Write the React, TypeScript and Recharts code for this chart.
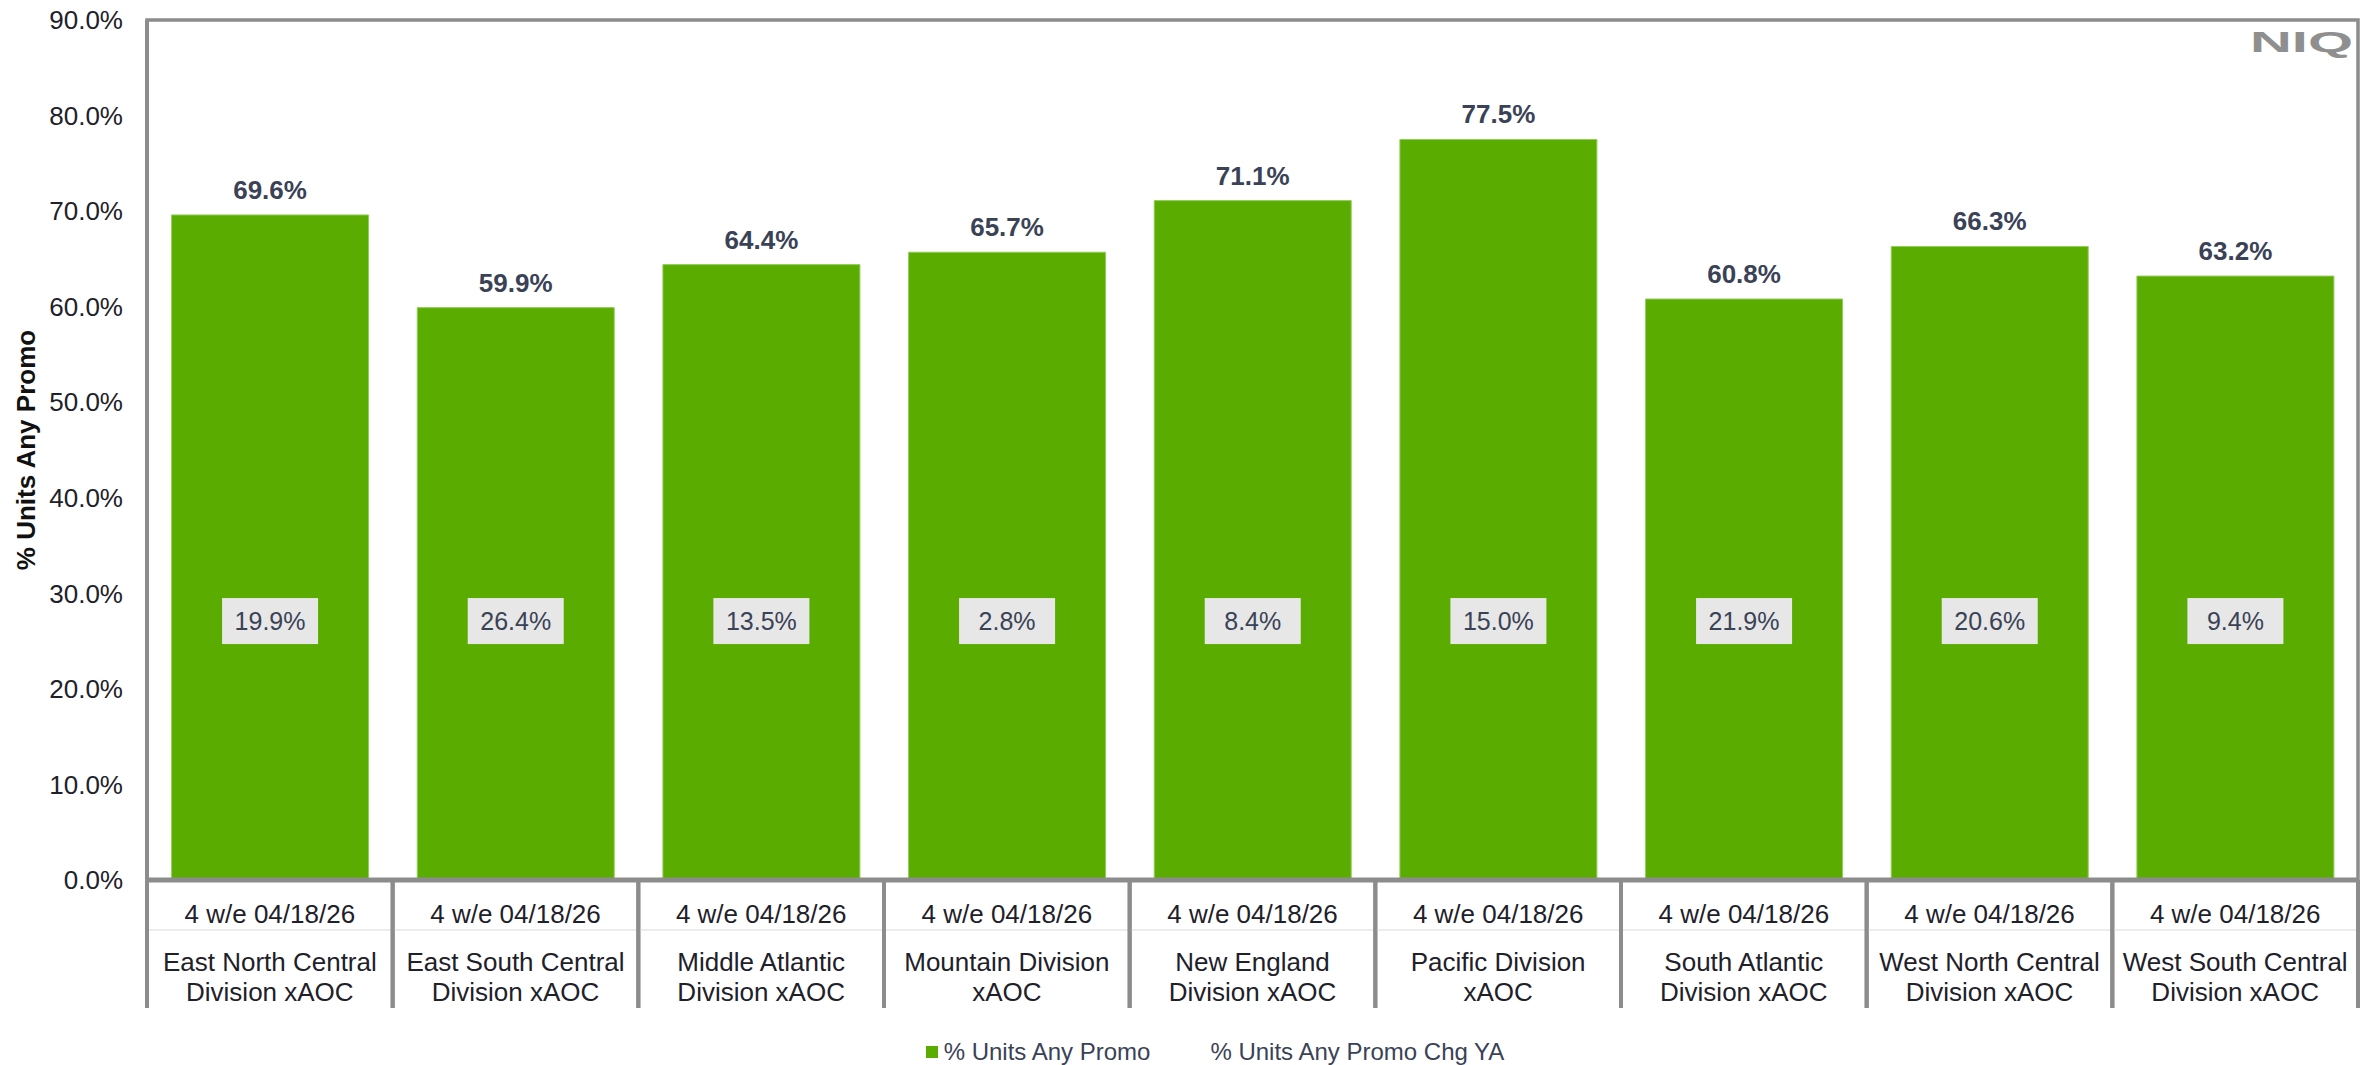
import React from 'react';
import { BarChart, Bar, XAxis, YAxis, LabelList, Legend, ReferenceArea } from 'recharts';

const periodLabels = [
  '4 w/e 04/18/26', '4 w/e 04/18/26', '4 w/e 04/18/26', '4 w/e 04/18/26', '4 w/e 04/18/26',
  '4 w/e 04/18/26', '4 w/e 04/18/26', '4 w/e 04/18/26', '4 w/e 04/18/26',
];
const divisionLines = [
  ['East North Central', 'Division xAOC'],
  ['East South Central', 'Division xAOC'],
  ['Middle Atlantic', 'Division xAOC'],
  ['Mountain Division', 'xAOC'],
  ['New England', 'Division xAOC'],
  ['Pacific Division', 'xAOC'],
  ['South Atlantic', 'Division xAOC'],
  ['West North Central', 'Division xAOC'],
  ['West South Central', 'Division xAOC'],
];
const promoValues = [69.6, 59.9, 64.4, 65.7, 71.1, 77.5, 60.8, 66.3, 63.2];
const chgValues = [19.9, 26.4, 13.5, 2.8, 8.4, 15.0, 21.9, 20.6, 9.4];
const yTicks = [0, 10, 20, 30, 40, 50, 60, 70, 80, 90];

const SERIES_1 = '% Units Any Promo';
const SERIES_2 = '% Units Any Promo Chg YA';

const data = divisionLines.map((lines, i) => ({
  name: lines.join(' '),
  period: periodLabels[i],
  lines,
  promo: promoValues[i],
  chg: chgValues[i],
}));

const FONT = '"Liberation Sans", Arial, sans-serif';
const GREEN = '#5aad00';
const BORDER = '#8c8c8c';
const LABEL_COLOR = '#3a4256';
const TEXT_DARK = '#1e2129';
const CHG_LEVEL = 27.1; // vertical level (in axis units) where the Chg YA boxes sit

const fmt = (v: number) => `${Number(v).toFixed(1)}%`;

const CategoryTick = (props: any) => {
  const { x, y, index, width, visibleTicksCount } = props;
  const d = data[index];
  const bw = (width || 2211) / (visibleTicksCount || data.length);
  const left = x - bw / 2;
  const right = x + bw / 2;
  return (
    <g>
      <line x1={left} x2={right} y1={y + 50} y2={y + 50} stroke="#e6e6e6" strokeWidth={1.5} />
      <line x1={left} x2={left} y1={y} y2={y + 128} stroke={BORDER} strokeWidth={4} />
      <line x1={right} x2={right} y1={y} y2={y + 128} stroke={BORDER} strokeWidth={4} />
      <text x={x} y={y + 34} textAnchor="middle" dominantBaseline="central" fontSize={26} fill={TEXT_DARK} fontFamily={FONT}>
        {d.period}
      </text>
      {d.lines.map((ln: string, k: number) => (
        <text key={k} x={x} y={y + 82 + k * 30} textAnchor="middle" dominantBaseline="central" fontSize={26} fill={TEXT_DARK} fontFamily={FONT}>
          {ln}
        </text>
      ))}
    </g>
  );
};

const ChgLabel = (props: any) => {
  const vb = props.viewBox && props.viewBox.height !== undefined ? props.viewBox : props;
  const { x, y, width, height } = vb;
  const idx = props.index;
  const promo = promoValues[idx];
  const bottom = y + height;
  const pxPer = height / promo;
  const cy = bottom - CHG_LEVEL * pxPer;
  const cx = x + width / 2;
  const bwid = 96;
  const bh = 46;
  return (
    <g>
      <rect x={cx - bwid / 2} y={cy - bh / 2} width={bwid} height={bh} fill="#e7e7e7" />
      <text x={cx} y={cy} textAnchor="middle" dominantBaseline="central" fontSize={25} fill={LABEL_COLOR} fontFamily={FONT}>
        {fmt(props.value)}
      </text>
    </g>
  );
};

const YTitle = (props: any) => {
  const vb = props.viewBox || { x: 0, y: 20, width: 147, height: 860 };
  const cx = vb.x + 26;
  const cy = vb.y + vb.height / 2;
  return (
    <text
      x={cx}
      y={cy}
      transform={`rotate(-90 ${cx} ${cy})`}
      textAnchor="middle"
      dominantBaseline="central"
      fontSize={26}
      fontWeight="bold"
      fill="#111111"
      fontFamily={FONT}
    >
      {SERIES_1}
    </text>
  );
};

const LegendContent = () => (
  <div
    style={{
      height: 55,
      boxSizing: 'border-box',
      paddingTop: 28,
      paddingLeft: 72,
      display: 'flex',
      justifyContent: 'center',
      alignItems: 'center',
      fontFamily: FONT,
      fontSize: 24,
      color: LABEL_COLOR,
    }}
  >
    <span style={{ display: 'inline-block', width: 12, height: 12, background: GREEN, marginRight: 6 }} />
    <span>{SERIES_1}</span>
    <span style={{ marginLeft: 60 }}>{SERIES_2}</span>
  </div>
);

export default function App() {
  return (
    <div style={{ position: 'absolute', left: 0, top: 0, width: 2376, height: 1065, background: '#ffffff' }}>
      <BarChart
        width={2376}
        height={1065}
        data={data}
        margin={{ top: 20, right: 18, bottom: 0, left: 0 }}
        barCategoryGap="10%"
        style={{ fontFamily: FONT }}
      >
        <XAxis
          dataKey="name"
          height={130}
          interval={0}
          tickSize={0}
          tickMargin={0}
          tickLine={false}
          axisLine={{ stroke: BORDER, strokeWidth: 5 }}
          tick={<CategoryTick />}
        />
        <YAxis
          width={147}
          domain={[0, 90]}
          ticks={yTicks}
          interval={0}
          tickFormatter={fmt}
          tickLine={false}
          tickSize={6}
          tickMargin={18}
          axisLine={{ stroke: BORDER, strokeWidth: 4 }}
          tick={{ fontSize: 26, fill: TEXT_DARK, fontFamily: FONT }}
          label={<YTitle />}
        />
        <ReferenceArea y1={0} y2={90} fill="none" fillOpacity={0} stroke={BORDER} strokeWidth={3.5} />
        <Bar dataKey="promo" name={SERIES_1} fill={GREEN} stroke="#93cc5c" strokeWidth={1} isAnimationActive={false}>
          <LabelList dataKey="promo" position="top" offset={16} formatter={fmt as any} fill={LABEL_COLOR} fontSize={26} fontWeight="bold" fontFamily={FONT} />
          <LabelList dataKey="chg" content={<ChgLabel />} />
        </Bar>
        <Legend verticalAlign="bottom" height={55} content={<LegendContent />} />
      </BarChart>
      <svg style={{ position: 'absolute', left: 2240, top: 22, overflow: 'visible' }} width={120} height={40}>
        <text x={10} y={30} fontSize={30} fontWeight={900} fill="#8f8f8f" fontFamily={FONT} textLength={103} lengthAdjust="spacingAndGlyphs">
          NIQ
        </text>
      </svg>
    </div>
  );
}
